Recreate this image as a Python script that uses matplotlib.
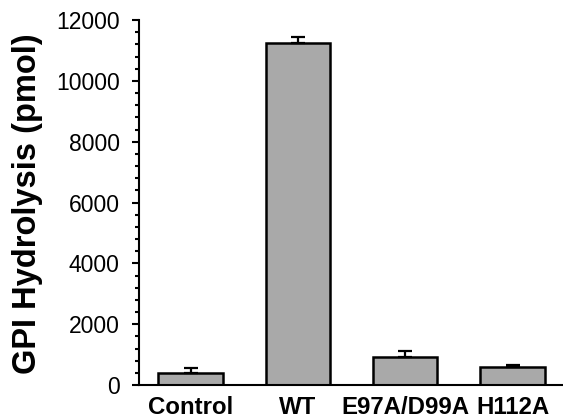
import matplotlib.pyplot as plt
from matplotlib.ticker import MultipleLocator

labels = ["Control", "WT", "E97A/D99A", "H112A"]
values = [405, 11260, 930, 592]
errors = [150, 170, 190, 65]

plt.rcParams['font.family'] = ['Liberation Sans', 'DejaVu Sans']

fig = plt.figure(figsize=(5.63, 4.20), dpi=100)
ax = fig.add_axes([0.2469, 0.0833, 0.7531, 0.8690])

x = range(len(labels))
ax.bar(x, values, width=0.6, color="#a9a9a9", edgecolor="black", linewidth=1.8, zorder=2)
ax.errorbar(x, values, yerr=[[0] * len(errors), errors], fmt="none", ecolor="black",
            elinewidth=1.6, capsize=4.7, capthick=1.6, zorder=3)

ax.set_xlim(-0.48, 3.47)
ax.set_ylim(0, 12000)
ax.yaxis.set_major_locator(MultipleLocator(2000))
ax.yaxis.set_minor_locator(MultipleLocator(400))
ax.set_xticks(list(x))
ax.set_xticklabels(labels, fontsize=17.3, fontweight="bold")
ax.tick_params(axis="x", length=0, pad=8)
ax.tick_params(axis="y", which="major", length=5, width=1.5, labelsize=16.5, pad=9)
ax.tick_params(axis="y", which="minor", length=3, width=1.5)

for side in ["top", "right"]:
    ax.spines[side].set_visible(False)
ax.spines["left"].set_linewidth(1.5)
ax.spines["bottom"].set_linewidth(1.5)

fig.text(28 / 563, 1 - 204 / 420, "GPI Hydrolysis (pmol)", rotation=90,
         ha="center", va="center", fontsize=23.5, fontweight="bold")

fig.savefig("out.png", dpi=100)
